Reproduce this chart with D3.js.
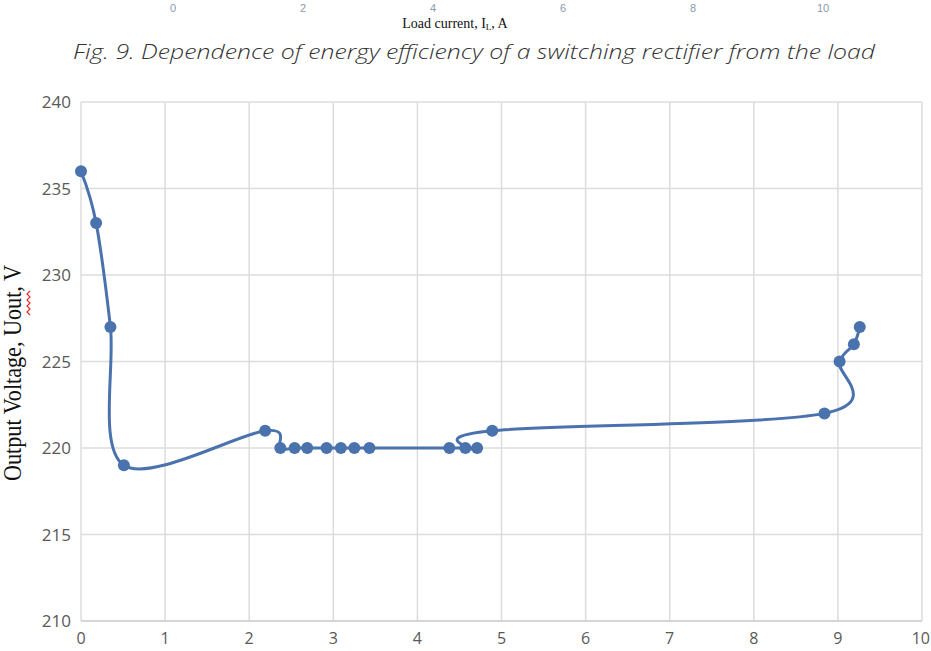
<!DOCTYPE html>
<html>
<head>
<meta charset="utf-8">
<script src="https://cdn.jsdelivr.net/npm/d3@7"></script>
<style>
  body { margin: 0; background: #fff; }
  svg { display: block; }
</style>
</head>
<body>
<script>
// values (order as plotted, the line is smoothed)
var current = [0, 0.18, 0.35, 0.51, 2.19, 2.37, 2.54, 2.69, 2.92, 3.09, 3.25, 3.43,
               4.38, 4.71, 4.57, 4.89, 8.84, 9.02, 9.19, 9.26];
var voltage = [236, 233, 227, 219, 221, 220, 220, 220, 220, 220, 220, 220,
               220, 220, 220, 221, 222, 225, 226, 227];
var xTicks = [0, 1, 2, 3, 4, 5, 6, 7, 8, 9, 10];
var yTicks = [210, 215, 220, 225, 230, 235, 240];
// tick labels of the previous figure, cut at the top of the picture
var prevTicks = [0, 2, 4, 6, 8, 10];

var W = 931, H = 651;
var blue = "#4a72ad";

var svg = d3.select("body").append("svg")
  .attr("width", W).attr("height", H);

// --- remains of the figure above ---
var px = d3.scaleLinear().domain([0, 10]).range([173, 823]);
svg.selectAll(".prev-tick")
  .data(prevTicks)
  .enter().append("text")
    .attr("class", "prev-tick")
    .attr("x", function(d) { return px(d); })
    .attr("y", 12)
    .attr("text-anchor", "middle")
    .style("font-family", "Liberation Sans, sans-serif")
    .style("font-size", "11px")
    .style("fill", "#8a9ab0")
    .text(function(d) { return d; });

var lc = svg.append("text")
  .attr("x", 455).attr("y", 28)
  .attr("text-anchor", "middle")
  .style("font-family", "Liberation Serif, serif")
  .style("font-size", "14px")
  .style("fill", "#111");
lc.append("tspan").text("Load current, I");
lc.append("tspan").attr("dy", 2).style("font-size", "9px").text("L");
lc.append("tspan").attr("dy", -2).text(", A");

svg.append("text")
  .attr("x", 474).attr("y", 59)
  .attr("text-anchor", "middle")
  .attr("textLength", 802)
  .attr("lengthAdjust", "spacingAndGlyphs")
  .style("font-family", "Open Sans, sans-serif")
  .style("font-style", "italic")
  .style("font-weight", 300)
  .style("font-size", "20px")
  .style("fill", "#333")
  .text("Fig. 9. Dependence of energy efficiency of a switching rectifier from the load");

// --- chart ---
var x = d3.scaleLinear().domain([0, 10]).range([81, 922]);
var y = d3.scaleLinear().domain([210, 240]).range([621, 102]);

// grid
svg.append("g").selectAll("line")
  .data(xTicks)
  .enter().append("line")
    .attr("x1", function(d) { return x(d); })
    .attr("x2", function(d) { return x(d); })
    .attr("y1", y(210)).attr("y2", y(240))
    .style("stroke", "#dcdcdc").style("stroke-width", 1.5);

svg.append("g").selectAll("line")
  .data(yTicks)
  .enter().append("line")
    .attr("x1", x(0)).attr("x2", x(10))
    .attr("y1", function(d) { return y(d); })
    .attr("y2", function(d) { return y(d); })
    .style("stroke", function(d) { return d == 210 ? "#c8c8c8" : "#dcdcdc"; })
    .style("stroke-width", 1.5);

// tick labels
svg.append("g").selectAll("text")
  .data(yTicks)
  .enter().append("text")
    .attr("x", 71)
    .attr("y", function(d) { return y(d) + 6; })
    .attr("text-anchor", "end")
    .style("font-family", "Open Sans, sans-serif")
    .style("font-size", "17px")
    .style("fill", "#595959")
    .text(function(d) { return d; });

svg.append("g").selectAll("text")
  .data(xTicks)
  .enter().append("text")
    .attr("x", function(d) { return d == 10 ? 930 : x(d); })
    .attr("y", 644)
    .attr("text-anchor", function(d) { return d == 10 ? "end" : "middle"; })
    .style("font-family", "Open Sans, sans-serif")
    .style("font-size", "16px")
    .style("fill", "#595959")
    .text(function(d) { return d; });

// y axis title (serif, hard against the left edge)
svg.append("text")
  .attr("transform", "translate(21,373) rotate(-90)")
  .attr("text-anchor", "middle")
  .attr("textLength", 216)
  .attr("lengthAdjust", "spacingAndGlyphs")
  .style("font-family", "Liberation Serif, serif")
  .style("font-size", "25px")
  .style("fill", "#111")
  .text("Output Voltage, Uout, V");

// spell-check squiggle under "Uout"
var squig = d3.range(0, 9).map(function(i) {
  return [i % 2 ? 27 : 30, 291 + i * 3];
});
svg.append("path")
  .attr("d", d3.line()(squig))
  .style("fill", "none")
  .style("stroke", "#e03030")
  .style("stroke-width", 1.2);

// series
var pts = current.map(function(c, i) { return [c, voltage[i]]; });

var line = d3.line()
  .x(function(d) { return x(d[0]); })
  .y(function(d) { return y(d[1]); })
  .curve(d3.curveCardinal.tension(0));

svg.append("path")
  .datum(pts)
  .attr("d", line)
  .style("fill", "none")
  .style("stroke", blue)
  .style("stroke-width", 3)
  .style("stroke-linejoin", "round");

svg.append("g").selectAll("circle")
  .data(pts)
  .enter().append("circle")
    .attr("cx", function(d) { return x(d[0]); })
    .attr("cy", function(d) { return y(d[1]); })
    .attr("r", 6)
    .style("fill", blue);
</script>
</body>
</html>
